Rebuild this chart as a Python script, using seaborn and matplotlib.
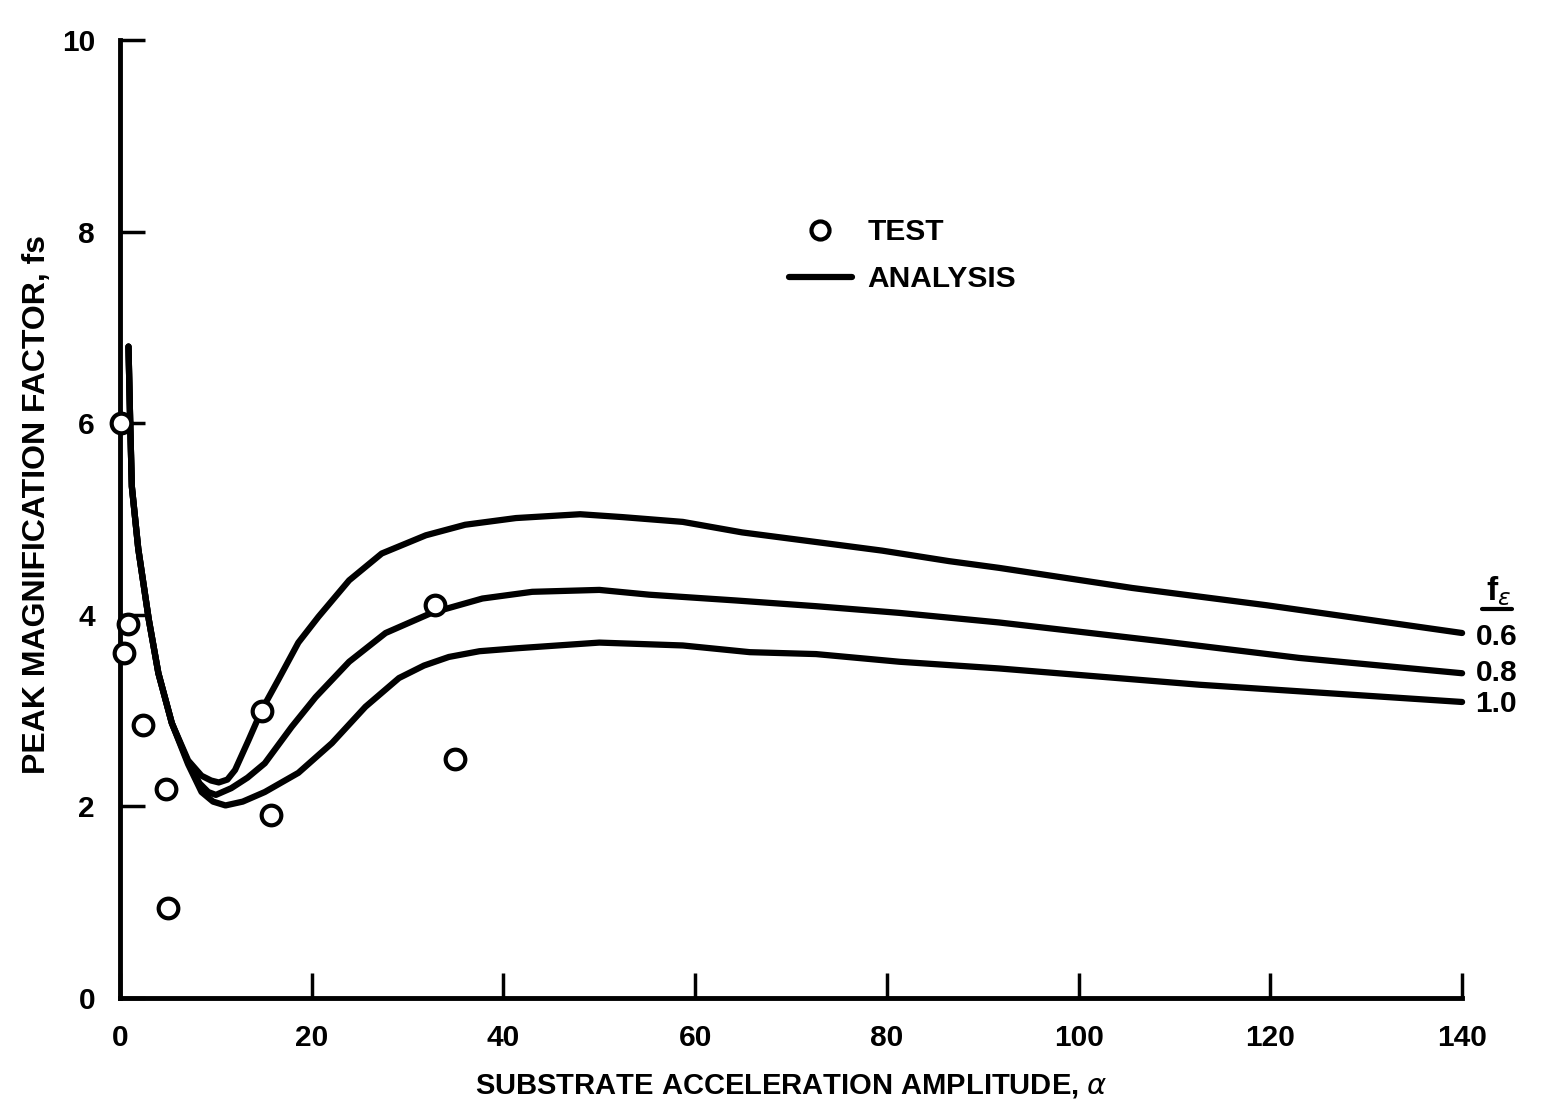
import matplotlib
matplotlib.use("Agg")
import matplotlib.pyplot as plt
import seaborn as sns
import pandas as pd
from matplotlib.lines import Line2D
from matplotlib.legend_handler import HandlerLine2D

# test points
test_alpha = [0.1, 0.4, 0.8, 2.4, 4.8, 5.0, 14.8, 15.7, 32.9, 34.9]
test_fs = [6.0, 3.6, 3.9, 2.85, 2.18, 0.94, 3.0, 1.91, 4.1, 2.49]

# analysis curves, one per f_eps
alpha_06 = [0.88, 1.06, 1.23, 1.9, 3.0, 4.0, 5.4, 7.1, 8.5, 9.5, 10.3, 11.2, 12.0, 13.4, 14.8,
            16.5, 18.6, 20.7, 23.9, 27.3, 31.9, 36.0, 41.3, 48.0, 52.4, 58.7, 64.9, 72.6, 79.5,
            86.5, 91.7, 105.6, 119.6, 140]
fs_06 = [6.8, 6.0, 5.34, 4.69, 3.95, 3.39, 2.87, 2.48, 2.32, 2.27, 2.25, 2.28, 2.38, 2.69, 3.01,
         3.32, 3.71, 3.98, 4.36, 4.64, 4.83, 4.94, 5.01, 5.05, 5.02, 4.97, 4.86, 4.76, 4.67,
         4.56, 4.49, 4.28, 4.10, 3.81]

alpha_08 = [0.88, 1.06, 1.23, 1.9, 3.0, 4.0, 5.4, 7.1, 8.3, 9.2, 10.0, 11.6, 13.3, 15.1, 17.9,
            20.4, 23.9, 27.7, 32.5, 37.8, 43.0, 50.0, 55.2, 64.2, 72.6, 81.3, 91.7, 109, 123, 140]
fs_08 = [6.8, 6.0, 5.34, 4.69, 3.95, 3.39, 2.87, 2.46, 2.24, 2.15, 2.12, 2.19, 2.3, 2.45, 2.83,
         3.14, 3.51, 3.81, 4.02, 4.17, 4.24, 4.26, 4.21, 4.15, 4.09, 4.02, 3.92, 3.72, 3.55, 3.39]

alpha_10 = [0.88, 1.06, 1.23, 1.9, 3.0, 4.0, 5.4, 7.1, 8.5, 9.7, 11.0, 12.8, 15.1, 18.6, 22.1,
            25.6, 29.1, 31.7, 34.3, 37.5, 41.3, 50.0, 58.7, 65.7, 72.6, 81.3, 91.7, 112.6, 140]
fs_10 = [6.8, 6.0, 5.34, 4.69, 3.95, 3.39, 2.87, 2.44, 2.15, 2.05, 2.01, 2.05, 2.15, 2.35, 2.66,
         3.04, 3.34, 3.47, 3.56, 3.62, 3.65, 3.71, 3.68, 3.61, 3.59, 3.51, 3.44, 3.27, 3.09]

curve_labels = ["0.6", "0.8", "1.0"]
x_ticks = [0, 20, 40, 60, 80, 100, 120, 140]
y_ticks = [0, 2, 4, 6, 8, 10]

sns.set_style("ticks")
plt.rcParams["font.family"] = ["Liberation Sans", "DejaVu Sans"]
plt.rcParams["font.weight"] = "bold"
plt.rcParams["mathtext.fontset"] = "custom"
plt.rcParams["mathtext.rm"] = "Liberation Sans:weight=bold"
plt.rcParams["mathtext.bf"] = "Liberation Sans:weight=bold"
plt.rcParams["mathtext.it"] = "DejaVu Sans:slant=italic:weight=normal"
for k in ["text.color", "axes.labelcolor", "axes.edgecolor", "xtick.color", "ytick.color"]:
    plt.rcParams[k] = "black"

curves = pd.concat([
    pd.DataFrame({"alpha": a, "fs": f, "feps": lab})
    for a, f, lab in zip([alpha_06, alpha_08, alpha_10], [fs_06, fs_08, fs_10], curve_labels)
])
tests = pd.DataFrame({"alpha": test_alpha, "fs": test_fs})

fig = plt.figure(figsize=(15.41, 11.09), dpi=100)
ax = fig.add_axes([0.0779, 0.1001, 0.8709, 0.8638])

sns.lineplot(data=curves, x="alpha", y="fs", units="feps", estimator=None, color="black",
             linewidth=4.5, legend=False, ax=ax, clip_on=False)
sns.scatterplot(data=tests, x="alpha", y="fs", marker="o", s=200, facecolor="white",
                edgecolor="black", linewidth=3, legend=False, ax=ax, clip_on=False, zorder=5)

ax.set_xlim(0, 140)
ax.set_ylim(0, 10)
ax.set_xticks(x_ticks)
ax.set_yticks(y_ticks)
ax.tick_params(direction="in", length=18, width=2.5, labelsize=21.5)
ax.tick_params(axis="x", pad=19)
ax.tick_params(axis="y", pad=18)
for lab in ax.get_xticklabels() + ax.get_yticklabels():
    lab.set_fontweight("bold")
sns.despine(ax=ax)
for s in ["left", "bottom"]:
    ax.spines[s].set_linewidth(3.5)

ax.set_xlabel(r"SUBSTRATE ACCELERATION AMPLITUDE, $\alpha$", fontsize=21, fontweight="bold")
ax.xaxis.set_label_coords(0.5, -0.077)
ax.set_ylabel("PEAK MAGNIFICATION FACTOR, fs", fontsize=23, fontweight="bold")
ax.yaxis.set_label_coords(-0.051, 0.515)


class RightMarker(HandlerLine2D):
    def get_xdata(self, legend, xdescent, ydescent, width, height, fontsize):
        xdata, _ = super().get_xdata(legend, xdescent, ydescent, width, height, fontsize)
        return xdata, [-xdescent + 0.77 * width]


# legend
test_handle = Line2D([], [], marker="o", linestyle="none", markersize=13, markerfacecolor="white",
                     markeredgecolor="black", markeredgewidth=3)
line_handle = Line2D([], [], color="black", linewidth=4.5)
ax.legend([test_handle, line_handle], ["TEST", "ANALYSIS"], loc="upper left",
          bbox_to_anchor=(0.512, 0.803), bbox_transform=fig.transFigure, frameon=False,
          handlelength=2.1, handletextpad=0.52, labelspacing=0.62, borderpad=0,
          borderaxespad=0, prop={"weight": "bold", "size": 21.5},
          handler_map={test_handle: RightMarker()})

# curve labels at right end
ends = [fs_06[-1], fs_08[-1], fs_10[-1]]
offsets = [-0.04, 0.0, -0.02]
for lab, yv, off in zip(curve_labels, ends, offsets):
    ax.text(141.4, yv + off, lab, fontsize=21.5, fontweight="bold", va="center",
            ha="left", clip_on=False)
ax.text(142.5, 4.25, r"$\mathbf{f}_{\epsilon}$", fontsize=24, va="center", ha="left",
        clip_on=False)
fig.add_artist(Line2D([0.9617, 0.9812], [0.4509, 0.4509], color="black", linewidth=3))

fig.savefig("out.png", dpi=100, facecolor="white")
